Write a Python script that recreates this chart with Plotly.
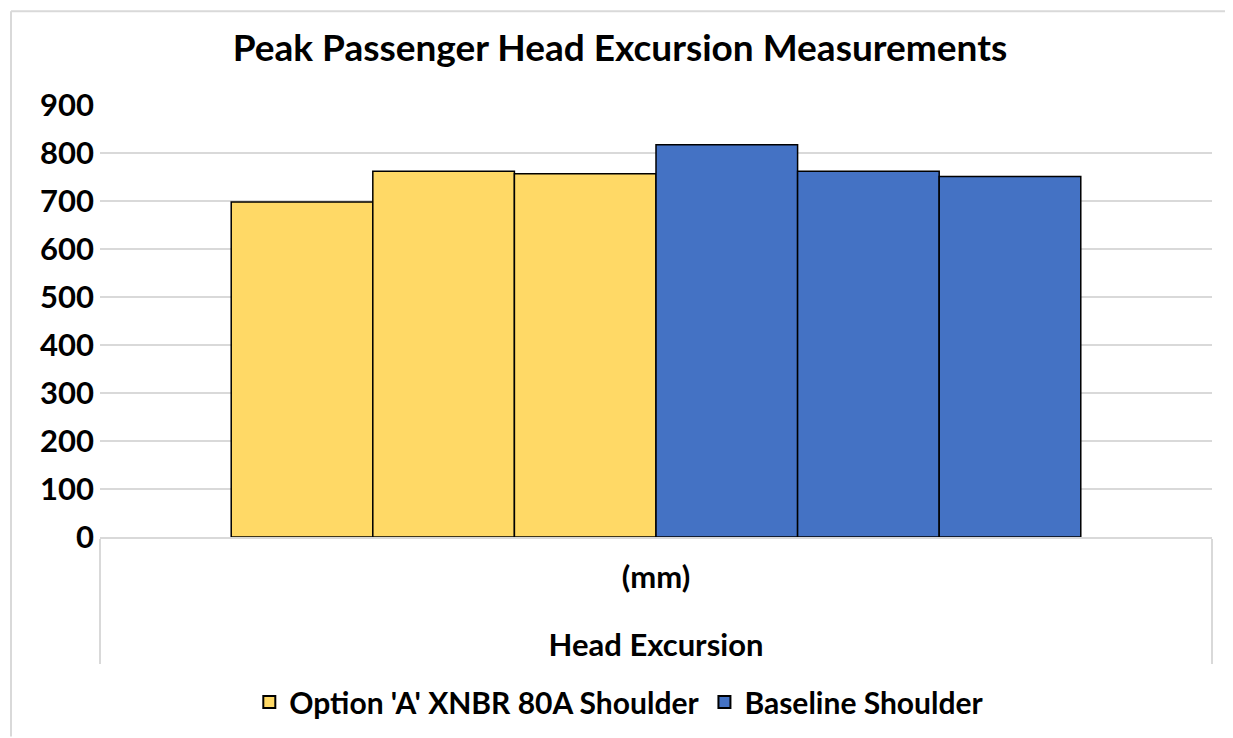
import plotly.graph_objects as go

# Data
outer_cat = ["Head Excursion"]
inner_cat = ["(mm)<br> "]
option_a = [698, 762, 757]
baseline = [817, 762, 751]
series_names = ["Option 'A' XNBR 80A Shoulder", "Baseline Shoulder"]
y_ticks = [0, 100, 200, 300, 400, 500, 600, 700, 800, 900]

YELLOW = "#FFD966"
BLUE = "#4472C4"
GRID = "#D9D9D9"
FONT = "Lato, Open Sans, sans-serif"

fig = go.Figure()
for vals, name, color in [(option_a, series_names[0], YELLOW), (baseline, series_names[1], BLUE)]:
    for i, v in enumerate(vals):
        fig.add_trace(go.Bar(
            x=[outer_cat, inner_cat],
            y=[v],
            name=name,
            legendgroup=name,
            showlegend=(i == 0),
            marker=dict(color=color, line=dict(color="black", width=1.5)),
        ))

# page body adds 8px offset, so the figure is 8px smaller and margins shifted
fig.update_layout(
    barmode="group",
    bargap=0.236,
    bargroupgap=0,
    width=1225,
    height=730,
    paper_bgcolor="white",
    plot_bgcolor="white",
    font=dict(family=FONT, size=20, color="black", weight="bold"),
    title=dict(text="Peak Passenger Head Excursion Measurements",
               xref="paper", x=0.4676, xanchor="center", y=1 - 40 / 730, yanchor="middle",
               font=dict(size=37, family=FONT, weight="bold")),
    margin=dict(l=92, r=21, t=97, b=200),
    legend=dict(orientation="h", x=0.467, xanchor="center", y=-(702 - 538) / 433, yanchor="middle",
                font=dict(size=30, family=FONT, weight="bold"), traceorder="normal",
                itemsizing="constant"),
    yaxis=dict(range=[0, 900], tickvals=y_ticks,
               showgrid=True, gridcolor=GRID, gridwidth=1.5, zeroline=False,
               ticks="", tickfont=dict(size=31, weight="bold"), ticklabelstandoff=5),
    xaxis=dict(type="multicategory", showline=True, linecolor=GRID, linewidth=1.5,
               showdividers=True, dividercolor=GRID, dividerwidth=1.5,
               tickfont=dict(size=31, weight="bold"), ticks="", ticklabelstandoff=12),
)

# chart border (top and left edges visible in the reference)
fig.add_shape(type="line", xref="paper", yref="paper",
              x0=-89 / 1112, x1=1 + 30 / 1112, y0=1 + 94 / 433, y1=1 + 94 / 433,
              line=dict(color=GRID, width=2))
fig.add_shape(type="line", xref="paper", yref="paper",
              x0=-89 / 1112, x1=-89 / 1112, y0=1 + 94 / 433, y1=-200 / 433,
              line=dict(color=GRID, width=2))

fig.write_html("out.html")
